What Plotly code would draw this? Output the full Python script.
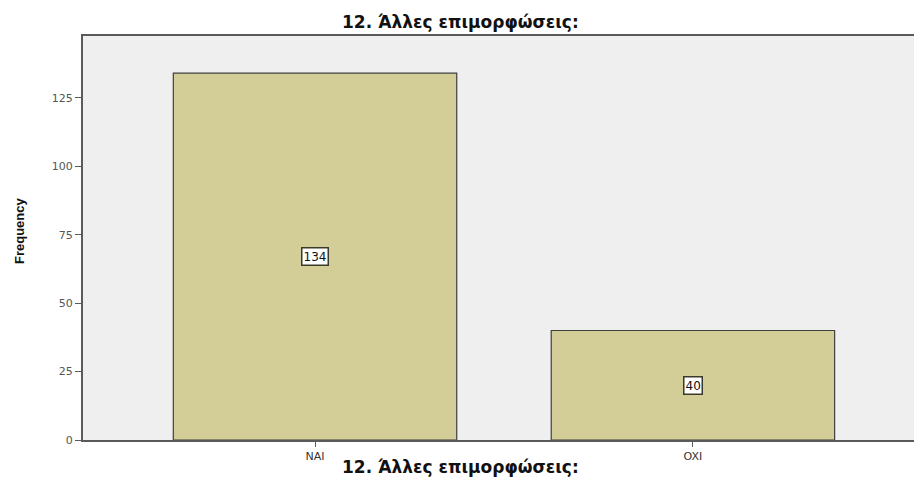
import plotly.graph_objects as go

# Frequency table for question 12
categories = ["NAI", "OXI"]
frequencies = [134, 40]
y_ticks = [0, 25, 50, 75, 100, 125]
chart_title = "12. Άλλες επιμορφώσεις:"
y_title = "Frequency"

W, H = 914, 487
ML, MR, MT, MB = 83, 0, 36, 47

bar_color = "#d3ce97"
edge_color = "#3f3f3f"
axis_color = "#5a5a5a"
panel_bg = "#efefef"
wide_font = "DejaVu Sans, Verdana, sans-serif"


def px_x(px):
    # horizontal pixel -> paper fraction of the plot area
    return (px - ML) / (W - ML - MR)


def px_y(py):
    # vertical pixel -> paper fraction of the plot area
    return (H - MB - py) / (H - MT - MB)


fig = go.Figure()
fig.add_trace(go.Bar(
    x=categories,
    y=frequencies,
    width=0.75,
    marker=dict(color=bar_color, line=dict(color=edge_color, width=1.2)),
    hoverinfo="x+y",
))

# value boxes centred in each bar
for cat, val in zip(categories, frequencies):
    fig.add_annotation(
        x=cat, y=val / 2, xref="x", yref="y",
        text=str(val), showarrow=False,
        font=dict(family=wide_font, size=12, color="#111111"),
        bgcolor="white", bordercolor="#3a3a2a", borderwidth=1.5, borderpad=1,
    )

for py in (22, 467):
    fig.add_annotation(
        x=px_x(460), y=px_y(py), xref="paper", yref="paper",
        xanchor="center", yanchor="middle", showarrow=False,
        text=f"<b>{chart_title}</b>",
        font=dict(family=wide_font, size=17, color="#111111"),
    )

fig.add_annotation(
    x=px_x(19), y=px_y(231), xref="paper", yref="paper",
    xanchor="center", yanchor="middle", showarrow=False, textangle=-90,
    text=f"<b>{y_title}</b>",
    font=dict(family="Liberation Sans, Arial, sans-serif", size=13, color="#111111"),
)

fig.update_layout(
    width=W, height=H,
    margin=dict(l=ML, r=MR, t=MT, b=MB),
    paper_bgcolor="white",
    plot_bgcolor=panel_bg,
    showlegend=False,
    font=dict(family=wide_font, size=11, color="#333333"),
)
fig.update_xaxes(
    type="category",
    range=[-0.614, 1.585],
    showgrid=False, zeroline=False,
    showline=True, linecolor=axis_color, linewidth=2, mirror=True,
    ticks="outside", ticklen=5, tickcolor=axis_color,
    tickfont=dict(family=wide_font, size=11, color="#333333"),
)
fig.update_yaxes(
    range=[0, 147.6],
    tickvals=y_ticks,
    showgrid=False, zeroline=False,
    showline=True, linecolor=axis_color, linewidth=2,
    ticks="outside", ticklen=6, tickcolor=axis_color,
    tickfont=dict(family=wide_font, size=11, color="#555555"),
)

fig.write_html("out.html")
